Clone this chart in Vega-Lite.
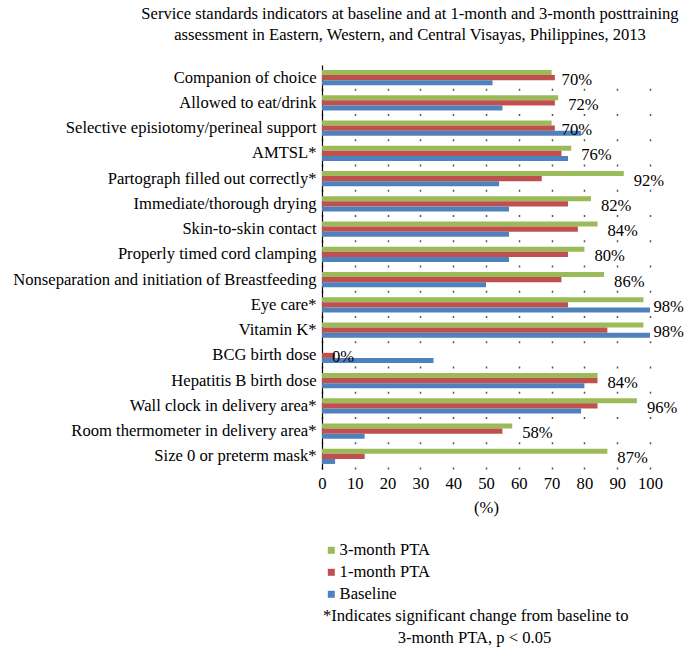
{
  "$schema": "https://vega.github.io/schema/vega-lite/v6.json",
  "width": 328,
  "height": 404,
  "autosize": {"type": "none"},
  "padding": {"left": 322, "top": 65, "right": 41, "bottom": 187},
  "background": "white",
  "config": {
    "view": {"stroke": null},
    "font": "Liberation Serif",
    "axis": {"labelFont": "Liberation Serif", "titleFont": "Liberation Serif", "labelColor": "#000000", "titleColor": "#000000"},
    "axisX": {"labelOverlap": false, "labelFlush": false},
    "legend": {"labelFont": "Liberation Serif", "titleFont": "Liberation Serif"}
  },
  "title": {
    "text": ["Service standards indicators at baseline and at 1-month and 3-month posttraining", "assessment in Eastern, Western, and Central Visayas, Philippines, 2013"],
    "font": "Liberation Serif",
    "fontSize": 16.6,
    "fontWeight": "normal",
    "color": "#000000",
    "anchor": "middle",
    "frame": "group",
    "dx": -76,
    "lineHeight": 21,
    "offset": 21
  },
  "datasets": {
    "bars": [
      {"item": "Companion of choice", "series": "3-month PTA", "value": 70},
      {"item": "Companion of choice", "series": "1-month PTA", "value": 71},
      {"item": "Companion of choice", "series": "Baseline", "value": 52},
      {"item": "Allowed to eat/drink", "series": "3-month PTA", "value": 72},
      {"item": "Allowed to eat/drink", "series": "1-month PTA", "value": 71},
      {"item": "Allowed to eat/drink", "series": "Baseline", "value": 55},
      {"item": "Selective episiotomy/perineal support", "series": "3-month PTA", "value": 70},
      {"item": "Selective episiotomy/perineal support", "series": "1-month PTA", "value": 71},
      {"item": "Selective episiotomy/perineal support", "series": "Baseline", "value": 79},
      {"item": "AMTSL*", "series": "3-month PTA", "value": 76},
      {"item": "AMTSL*", "series": "1-month PTA", "value": 73},
      {"item": "AMTSL*", "series": "Baseline", "value": 75},
      {"item": "Partograph filled out correctly*", "series": "3-month PTA", "value": 92},
      {"item": "Partograph filled out correctly*", "series": "1-month PTA", "value": 67},
      {"item": "Partograph filled out correctly*", "series": "Baseline", "value": 54},
      {"item": "Immediate/thorough drying", "series": "3-month PTA", "value": 82},
      {"item": "Immediate/thorough drying", "series": "1-month PTA", "value": 75},
      {"item": "Immediate/thorough drying", "series": "Baseline", "value": 57},
      {"item": "Skin-to-skin contact", "series": "3-month PTA", "value": 84},
      {"item": "Skin-to-skin contact", "series": "1-month PTA", "value": 78},
      {"item": "Skin-to-skin contact", "series": "Baseline", "value": 57},
      {"item": "Properly timed cord clamping", "series": "3-month PTA", "value": 80},
      {"item": "Properly timed cord clamping", "series": "1-month PTA", "value": 75},
      {"item": "Properly timed cord clamping", "series": "Baseline", "value": 57},
      {"item": "Nonseparation and initiation of Breastfeeding", "series": "3-month PTA", "value": 86},
      {"item": "Nonseparation and initiation of Breastfeeding", "series": "1-month PTA", "value": 73},
      {"item": "Nonseparation and initiation of Breastfeeding", "series": "Baseline", "value": 50},
      {"item": "Eye care*", "series": "3-month PTA", "value": 98},
      {"item": "Eye care*", "series": "1-month PTA", "value": 75},
      {"item": "Eye care*", "series": "Baseline", "value": 100},
      {"item": "Vitamin K*", "series": "3-month PTA", "value": 98},
      {"item": "Vitamin K*", "series": "1-month PTA", "value": 87},
      {"item": "Vitamin K*", "series": "Baseline", "value": 100},
      {"item": "BCG birth dose", "series": "3-month PTA", "value": 0},
      {"item": "BCG birth dose", "series": "1-month PTA", "value": 4},
      {"item": "BCG birth dose", "series": "Baseline", "value": 34},
      {"item": "Hepatitis B birth dose", "series": "3-month PTA", "value": 84},
      {"item": "Hepatitis B birth dose", "series": "1-month PTA", "value": 84},
      {"item": "Hepatitis B birth dose", "series": "Baseline", "value": 80},
      {"item": "Wall clock in delivery area*", "series": "3-month PTA", "value": 96},
      {"item": "Wall clock in delivery area*", "series": "1-month PTA", "value": 84},
      {"item": "Wall clock in delivery area*", "series": "Baseline", "value": 79},
      {"item": "Room thermometer in delivery area*", "series": "3-month PTA", "value": 58},
      {"item": "Room thermometer in delivery area*", "series": "1-month PTA", "value": 55},
      {"item": "Room thermometer in delivery area*", "series": "Baseline", "value": 13},
      {"item": "Size 0 or preterm mask*", "series": "3-month PTA", "value": 87},
      {"item": "Size 0 or preterm mask*", "series": "1-month PTA", "value": 13},
      {"item": "Size 0 or preterm mask*", "series": "Baseline", "value": 4}
    ],
    "labels": [
      {"item": "Companion of choice", "value": 70, "label": "70%"},
      {"item": "Allowed to eat/drink", "value": 72, "label": "72%"},
      {"item": "Selective episiotomy/perineal support", "value": 70, "label": "70%"},
      {"item": "AMTSL*", "value": 76, "label": "76%"},
      {"item": "Partograph filled out correctly*", "value": 92, "label": "92%"},
      {"item": "Immediate/thorough drying", "value": 82, "label": "82%"},
      {"item": "Skin-to-skin contact", "value": 84, "label": "84%"},
      {"item": "Properly timed cord clamping", "value": 80, "label": "80%"},
      {"item": "Nonseparation and initiation of Breastfeeding", "value": 86, "label": "86%"},
      {"item": "Eye care*", "value": 98, "label": "98%"},
      {"item": "Vitamin K*", "value": 98, "label": "98%"},
      {"item": "BCG birth dose", "value": 0, "label": "0%"},
      {"item": "Hepatitis B birth dose", "value": 84, "label": "84%"},
      {"item": "Wall clock in delivery area*", "value": 96, "label": "96%"},
      {"item": "Room thermometer in delivery area*", "value": 58, "label": "58%"},
      {"item": "Size 0 or preterm mask*", "value": 87, "label": "87%"}
    ]
  },
  "encoding": {
    "y": {
      "field": "item",
      "type": "nominal",
      "sort": null,
      "scale": {"paddingInner": 0.4, "paddingOuter": 0.2},
      "axis": {
        "title": null,
        "ticks": false,
        "domain": true,
        "domainColor": "#000000",
        "domainWidth": 1.2,
        "labelFontSize": 16.6,
        "labelPadding": 6,
        "labelLimit": 400,
        "grid": false
      }
    },
    "x": {
      "field": "value",
      "type": "quantitative",
      "scale": {"domain": [0, 100], "nice": false},
      "axis": {
        "title": "(%)",
        "titleFontSize": 16.6,
        "titleFontWeight": "normal",
        "titlePadding": 8,
        "values": [0, 10, 20, 30, 40, 50, 60, 70, 80, 90, 100],
        "labelOverlap": false,
        "labelFlush": false,
        "labelFontSize": 16.6,
        "labelPadding": 6,
        "ticks": false,
        "domain": false,
        "grid": true,
        "gridColor": "#555555",
        "gridWidth": 1.5,
        "gridDash": [2, 23.25]
      }
    }
  },
  "layer": [
    {
      "data": {"name": "bars"},
      "mark": {"type": "bar"},
      "encoding": {
        "yOffset": {
          "field": "series",
          "type": "nominal",
          "scale": {"domain": ["3-month PTA", "1-month PTA", "Baseline"], "padding": 0}
        },
        "color": {
          "field": "series",
          "type": "nominal",
          "scale": {"domain": ["3-month PTA", "1-month PTA", "Baseline"], "range": ["#9BBB59", "#C0504D", "#4F81BD"]},
          "legend": {
            "orient": "none",
            "legendX": 1,
            "legendY": 477,
            "direction": "vertical",
            "symbolType": "square",
            "symbolSize": 49,
            "symbolStrokeWidth": 0,
            "labelFontSize": 16.6,
            "labelColor": "#000000",
            "labelOffset": 0,
            "rowPadding": 5,
            "padding": 0,
            "title": ["*Indicates significant change from baseline to", "\u200b\u2003\u2003\u2003\u2003\u20023-month PTA, p < 0.05"],
            "titleOrient": "bottom",
            "titleAnchor": "start",
            "titleFontSize": 16.6,
            "titleFontWeight": "normal",
            "titleColor": "#000000",
            "titleLineHeight": 21.5,
            "titleLimit": 600,
            "titlePadding": 5
          }
        }
      }
    },
    {
      "data": {"name": "labels"},
      "mark": {"type": "text", "align": "left", "baseline": "middle", "dx": 10, "dy": 2, "fontSize": 16.6, "font": "Liberation Serif", "color": "#000000"},
      "encoding": {
        "text": {"field": "label", "type": "nominal"}
      }
    }
  ]
}
